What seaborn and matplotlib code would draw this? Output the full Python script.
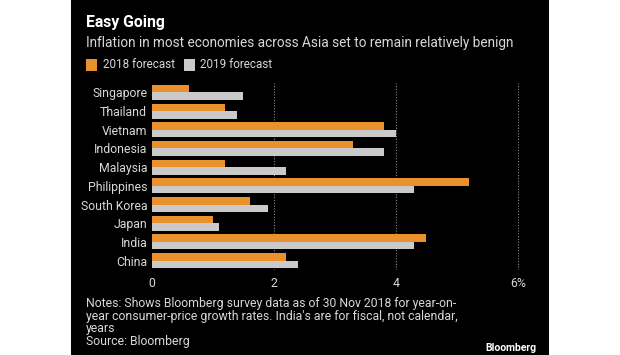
import matplotlib
matplotlib.use("Agg")
import matplotlib.pyplot as plt
from matplotlib.patches import Rectangle
import seaborn as sns
import pandas as pd

countries = ["Singapore", "Thailand", "Vietnam", "Indonesia", "Malaysia",
             "Philippines", "South Korea", "Japan", "India", "China"]
forecast_2018 = [0.6, 1.2, 3.8, 3.3, 1.2, 5.2, 1.6, 1.0, 4.5, 2.2]
forecast_2019 = [1.5, 1.4, 4.0, 3.8, 2.2, 4.3, 1.9, 1.1, 4.3, 2.4]
series_labels = ["2018 forecast", "2019 forecast"]
xticks = [0, 2, 4, 6]
xtick_labels = ["0", "2", "4", "6%"]

title = "Easy Going"
subtitle = "Inflation in most economies across Asia set to remain relatively benign"
notes = ["Notes: Shows Bloomberg survey data as of 30 Nov 2018 for year-on-",
         "year consumer-price growth rates. India's are for fiscal, not calendar,",
         "years",
         "Source: Bloomberg"]

ORANGE = "#E8912D"
GREY = "#CACACA"
TXT = "#D8D8D8"

df = pd.DataFrame({
    "country": countries * 2,
    "value": forecast_2018 + forecast_2019,
    "series": [series_labels[0]] * len(countries) + [series_labels[1]] * len(countries),
})

sns.set_theme(style="white")
plt.rcParams["font.family"] = ["Roboto", "DejaVu Sans"]

W, H = 620, 355
fig = plt.figure(figsize=(W / 100, H / 100), dpi=100, facecolor="white")
fig.patches.append(Rectangle((71 / W, 0), (549 - 71) / W, 1, transform=fig.transFigure,
                             facecolor="black", edgecolor="none", zorder=-5))

ax = fig.add_axes([152 / W, 1 - 270 / H, (530 - 152) / W, (270 - 83) / H])
ax.set_facecolor("black")

sns.barplot(data=df, y="country", x="value", hue="series", orient="h",
            palette=[ORANGE, GREY], width=0.8, saturation=1, linewidth=0,
            legend=False, ax=ax)

ax.set_xlim(0, 6.2)
ax.set_xticks(xticks)
ax.set_xticklabels(xtick_labels)
ax.set_xlabel("")
ax.set_ylabel("")
for s in ax.spines.values():
    s.set_visible(False)
ax.tick_params(axis="both", length=0, colors=TXT, labelsize=8.8)
ax.tick_params(axis="x", pad=5)
ax.tick_params(axis="y", pad=3.5)
ax.grid(axis="x", color="#8a8a8a", linestyle=(0, (1, 1.5)), linewidth=0.8)
ax.set_axisbelow(True)
ax.xaxis.get_gridlines()[0].set_visible(False)

def fy(py):
    return 1 - py / H

fig.text(86 / W, fy(27), title, color="white", fontsize=11.3, fontweight="bold", va="baseline")
fig.text(86 / W, fy(47), subtitle, color=TXT, fontsize=9.8, va="baseline")

# legend
fig.patches.append(Rectangle((86 / W, fy(71)), 11 / W, 12 / H, transform=fig.transFigure,
                             facecolor=ORANGE, edgecolor="none"))
fig.text(103 / W, fy(68), series_labels[0], color=TXT, fontsize=8.4, va="baseline")
fig.patches.append(Rectangle((184 / W, fy(71)), 11 / W, 12 / H, transform=fig.transFigure,
                             facecolor=GREY, edgecolor="none"))
fig.text(200 / W, fy(68), series_labels[1], color=TXT, fontsize=8.4, va="baseline")

for i, line in enumerate(notes):
    fig.text(86 / W, fy(307 + 12.7 * i), line, color=TXT, fontsize=8.85, va="baseline")

fig.text(537 / W, fy(351), "Bloomberg", color="white", fontsize=7.5, fontweight="bold",
         ha="right", va="baseline")

fig.savefig("out.png", dpi=100, facecolor="white")
